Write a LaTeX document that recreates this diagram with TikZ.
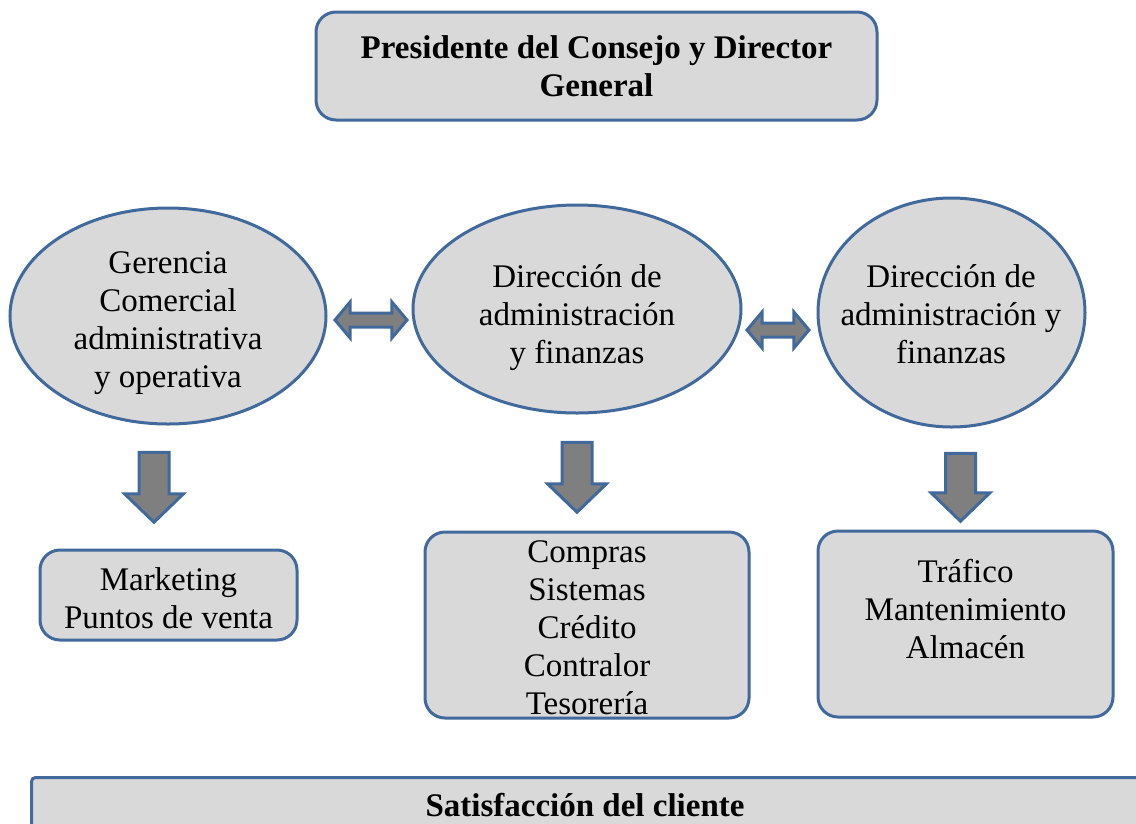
\documentclass[tikz,border=0pt]{standalone}
\usepackage{fontspec}
\setmainfont{Liberation Serif}
\usepackage{tikz}
\usetikzlibrary{positioning}
\usetikzlibrary{shapes.geometric,shapes.arrows}

\definecolor{boxfill}{HTML}{D9D9D9}
\definecolor{boxline}{HTML}{41699C}
\definecolor{arrowfill}{HTML}{7F7F7F}

\begin{document}
\begin{tikzpicture}[x=1pt,y=-1pt,
    txt/.style={align=center,font=\fontsize{33}{38}\selectfont},
    box/.style={draw=boxline,fill=boxfill,line width=3pt,rounded corners=20pt,inner sep=0pt},
    oval/.style={ellipse,draw=boxline,fill=boxfill,line width=3pt,inner sep=0pt},
    downarrow/.style={single arrow,draw=boxline,fill=arrowfill,line width=3pt,inner xsep=0pt,inner ysep=13.5pt,
      single arrow head extend=14.5pt,single arrow tip angle=92,rotate=-90},
    sidearrow/.style={double arrow,draw=boxline,fill=arrowfill,line width=3pt,inner xsep=0pt,inner ysep=5.5pt,
      double arrow head extend=11pt,double arrow tip angle=100}]
  \useasboundingbox (0,0) rectangle (1136,823);
  \clip (0,0) rectangle (1136,823);

  \node at (596.5,66) [box,minimum width=561pt,minimum height=108pt] (presidente) {};
  \node at (presidente) [txt] (presidentetxt) {\bfseries Presidente del Consejo y Director\\\bfseries General};

  \node at (168,316) [oval,minimum width=316pt,minimum height=216pt] (gerencia) {};
  \node at (168,323) [txt] (gerenciatxt) {Gerencia\\Comercial\\administrativa\\y operativa};

  \node at (577,309) [oval,minimum width=328pt,minimum height=208pt] (admin) {};
  \node at (577,318) [txt] (admintxt) {Dirección de\\administración\\y finanzas};

  \node at (951.5,312.5) [oval,minimum width=267pt,minimum height=229pt] (finanzas) {};
  \node at (951,314) [txt] (finanzastxt) {Dirección de\\administración y\\finanzas};

  \node at (371,320) [sidearrow,minimum height=72pt] (ga) {};
  \node at (778,330) [sidearrow,minimum height=62pt] (af) {};

  \node at (154,480) [downarrow,minimum height=70pt] (gd) {};
  \node at (577,470) [downarrow,minimum height=70pt] (ad) {};
  \node at (960.5,480) [downarrow,minimum height=68pt] (fd) {};

  \node at (168.5,595) [box,minimum width=257pt,minimum height=90pt] (marketing) {};
  \node at (168.5,598) [txt] (marketingtxt) {Marketing\\Puntos de venta};

  \node at (587,625) [box,minimum width=324pt,minimum height=186pt] (compras) {};
  \node at (587,628) [txt] (comprastxt) {Compras\\Sistemas\\Crédito\\Contralor\\Tesorería};

  \node at (965.5,624) [box,minimum width=295pt,minimum height=186pt] (trafico) {};
  \node at (965.5,609) [txt] (traficotxt) {Tráfico\\Mantenimiento\\Almacén};

  \node at (30,776) [box,anchor=north west,rounded corners=4pt,minimum width=1140pt,minimum height=90pt] (cliente) {};
  \node at (585,805) [txt] (clientetxt) {\bfseries Satisfacción del cliente};
\end{tikzpicture}
\end{document}
